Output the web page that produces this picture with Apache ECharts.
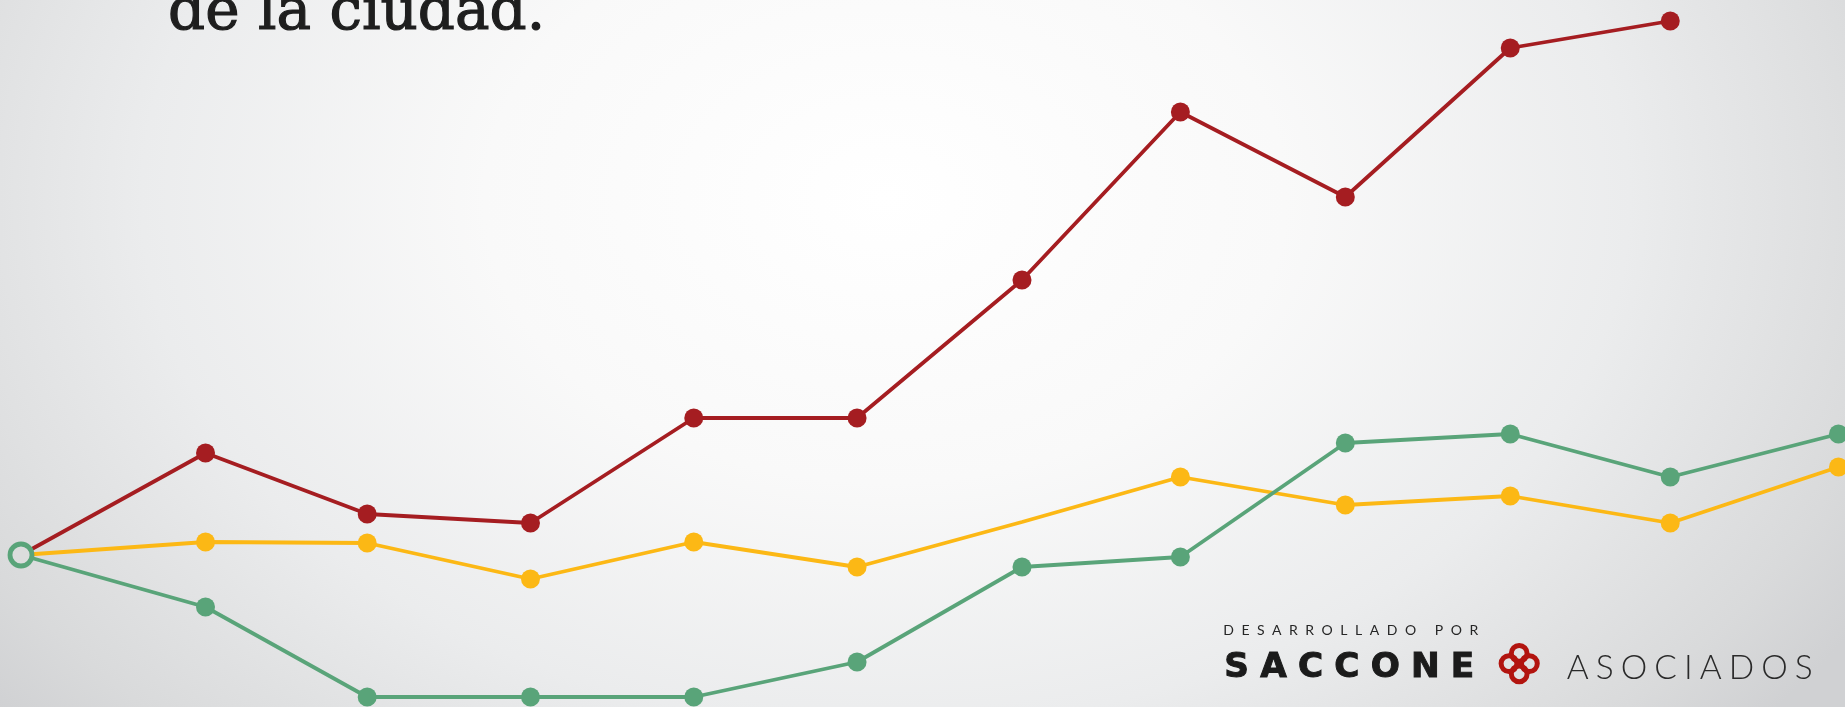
<!DOCTYPE html>
<html lang="es">
<head>
<meta charset="utf-8">
<title>de la ciudad.</title>
<script src="https://cdn.jsdelivr.net/npm/echarts@6/dist/echarts.min.js"></script>
<style>
  html, body { margin: 0; padding: 0; }
  #stage {
    position: relative;
    width: 1845px;
    height: 707px;
    overflow: hidden;
    background: radial-gradient(ellipse 62% 115% at 48% 28%,
      #ffffff 0%, #f9f9f9 35%, #ebeced 65%, #d9dadb 90%, #d0d1d3 100%);
  }
  #chart { position: absolute; left: 0; top: 0; width: 1845px; height: 707px; }
  .credit { position: absolute; white-space: nowrap; line-height: 1; color: #222; }
  #dev { left: 1223.3px; top: 620.6px; font: 400 14px "Lato", sans-serif; color: #262626; }
  #brand { left: 1224.3px; top: 645.2px; font: 700 34.3px "DejaVu Sans", sans-serif; color: #1b1b1b;
           -webkit-text-stroke: 1px #1b1b1b; }
  #partner { left: 1566.7px; top: 645.8px; font: 300 33.5px "Lato", sans-serif; color: #2a2a2a; }
</style>
</head>
<body>
<div id="stage">
  <div id="chart"></div>
  <div class="credit" id="dev" data-span="255">DESARROLLADO POR</div>
  <div class="credit" id="brand" data-span="250">SACCONE</div>
  <div class="credit" id="partner" data-span="246">ASOCIADOS</div>
</div>
<script>
// Period positions along the horizontal scale (first one is the common origin)
const periodos = [0, 1.13, 2.12, 3.12, 4.12, 5.12, 6.13, 7.10, 8.11, 9.12, 10.10, 11.13];

// Index values per series, relative to the shared starting point
const rojo     = [0, 10.2, 4.1, 3.2, 13.7, 13.7, 27.5, 44.3, 35.8, 50.7, 53.4];
const amarillo = [0, 1.3, 1.2, -2.4, 1.3, -1.2, 3.3, 7.8, 5.0, 5.9, 3.2, 8.8];
const verde    = [0, -5.2, -14.2, -14.2, -14.2, -10.7, -1.2, -0.2, 11.2, 12.1, 7.8, 12.1];

// Points of the yellow series drawn without a dot
const amarilloSinPunto = [6];

const titulo = 'de la ciudad.';

const COLORS = { rojo: '#a51d21', amarillo: '#fcb815', verde: '#59a479' };

// Spread the letters of each credit line over its intended span
document.querySelectorAll('.credit').forEach(el => {
  el.style.letterSpacing = '0px';
  const natural = el.getBoundingClientRect().width;
  const n = el.textContent.length;
  const span = parseFloat(el.dataset.span);
  el.style.letterSpacing = ((span - natural) / (n - 1)) + 'px';
});

function puntos(valores, sinPunto) {
  return valores.map((v, i) => {
    const item = { value: [periodos[i], v] };
    if (i === 0 || (sinPunto && sinPunto.indexOf(i) >= 0)) item.symbol = 'none';
    return item;
  });
}

function linea(nombre, valores, color, sinPunto, z) {
  return {
    name: nombre,
    type: 'line',
    data: puntos(valores, sinPunto),
    symbol: 'circle',
    symbolSize: 19,
    showAllSymbol: true,
    z: z,
    lineStyle: { color: color, width: 3.8 },
    itemStyle: { color: color },
    emphasis: { disabled: true }
  };
}

const chart = echarts.init(document.getElementById('chart'), null, { renderer: 'canvas' });

// Decorative mark of the credit line: four interlaced rings
const anillos = [[0, -10.2], [10.2, 0], [0, 10.2], [-10.2, 0]].map(([dx, dy]) => ({
  type: 'circle',
  shape: { cx: dx, cy: dy, r: 7.9 },
  style: { fill: 'none', stroke: '#b2140f', lineWidth: 5 }
}));

chart.setOption({
  animation: false,
  backgroundColor: 'transparent',
  title: {
    text: titulo,
    left: 168,
    top: -15,
    padding: 0,
    textStyle: {
      fontFamily: '"DejaVu Serif", serif',
      fontSize: 58,
      fontWeight: 'normal',
      color: '#1e1e1e',
      textBorderColor: '#1e1e1e',
      textBorderWidth: 1.2
    }
  },
  grid: { left: 0, right: 0, top: 0, bottom: 0 },
  xAxis: { type: 'value', min: -0.1286, max: 11.17, show: false },
  yAxis: { type: 'value', min: -15.2, max: 55.5, show: false },
  tooltip: { show: false },
  graphic: [{
    type: 'group',
    x: 1519.2,
    y: 663.6,
    children: anillos
  }],
  series: [
    linea('Rojo', rojo, COLORS.rojo, null, 2),
    linea('Amarillo', amarillo, COLORS.amarillo, amarilloSinPunto, 3),
    linea('Verde', verde, COLORS.verde, null, 4),
    {
      // hollow marker at the common origin
      name: 'Origen',
      type: 'scatter',
      data: [[periodos[0], verde[0]]],
      symbol: 'circle',
      symbolSize: 22,
      z: 10,
      itemStyle: { color: '#dcdddd', borderColor: COLORS.verde, borderWidth: 4.8, opacity: 1 },
      emphasis: { disabled: true }
    }
  ]
});
</script>
</body>
</html>
